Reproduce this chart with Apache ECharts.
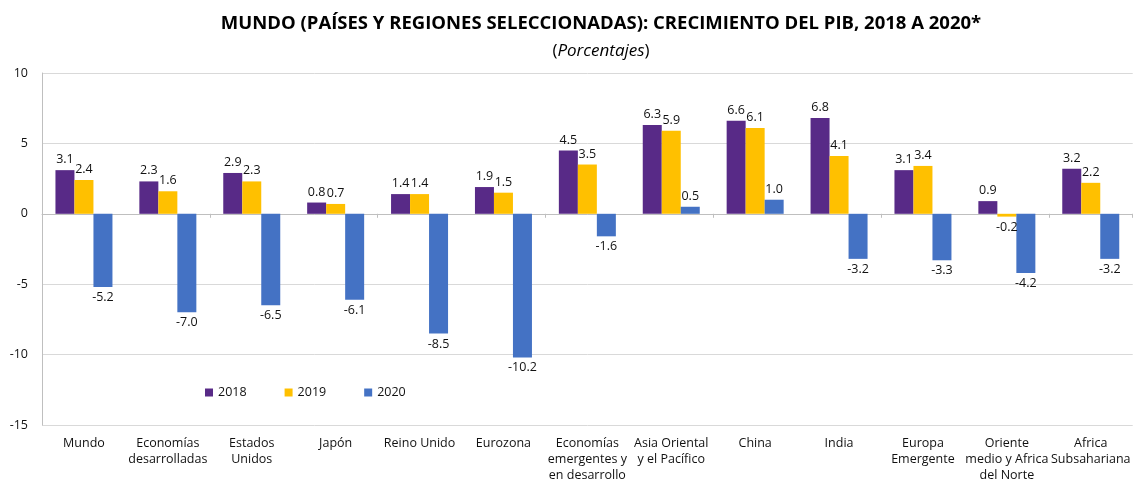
<!DOCTYPE html>
<html>
<head>
<meta charset="utf-8">
<script src="https://cdn.jsdelivr.net/npm/echarts@6/dist/echarts.min.js"></script>
<style>
html, body { margin: 0; padding: 0; background: #fff; }
#main { width: 1133px; height: 483px; }
</style>
</head>
<body>
<div id="main"></div>
<script>
// datos
let categorias = ["Mundo", "Economías\ndesarrolladas", "Estados\nUnidos", "Japón", "Reino Unido", "Eurozona",
    "Economías\nemergentes y\nen desarrollo", "Asia Oriental\ny el Pacífico", "China", "India",
    "Europa\nEmergente", "Oriente\nmedio y Africa\ndel Norte", "Africa\nSubsahariana"];
let pib2018 = [3.1, 2.3, 2.9, 0.8, 1.4, 1.9, 4.5, 6.3, 6.6, 6.8, 3.1, 0.9, 3.2];
let pib2019 = [2.4, 1.6, 2.3, 0.7, 1.4, 1.5, 3.5, 5.9, 6.1, 4.1, 3.4, -0.2, 2.2];
let pib2020 = [-5.2, -7.0, -6.5, -6.1, -8.5, -10.2, -1.6, 0.5, 1.0, -3.2, -3.3, -4.2, -3.2];
let anios = ["2018", "2019", "2020"];
let colores = ["#582A87", "#FFC000", "#4472C4"];

let fuente = "'Open Sans', sans-serif";
let myChart = echarts.init(document.getElementById('main'));

function serie(nombre, datos, color) {
    return {
        name: nombre,
        type: 'bar',
        barWidth: 19,
        barGap: '0%',
        itemStyle: { color: color },
        data: datos.map(function (v) {
            return {
                value: v,
                label: { position: v < 0 ? 'bottom' : 'top' }
            };
        }),
        label: {
            show: true,
            distance: 4,
            fontFamily: fuente,
            fontSize: 12.5,
            color: '#111',
            formatter: function (p) { return p.value.toFixed(1); }
        }
    };
}

myChart.setOption({
    backgroundColor: '#fff',
    animation: false,
    title: {
        text: 'MUNDO (PAÍSES Y REGIONES SELECCIONADAS): CRECIMIENTO DEL PIB, 2018 A 2020*',
        subtext: '{n|(}{i|Porcentajes}{n|)}',
        left: 596,
        textAlign: 'center',
        top: 9,
        itemGap: 10,
        textStyle: {
            fontFamily: fuente,
            fontSize: 18.5,
            fontWeight: 'bold',
            color: '#000'
        },
        subtextStyle: {
            rich: {
                n: { fontFamily: fuente, fontSize: 17, color: '#000' },
                i: { fontFamily: fuente, fontSize: 17, fontStyle: 'italic', color: '#000' }
            }
        }
    },
    legend: {
        data: anios,
        left: 200,
        top: 381,
        itemWidth: 8,
        itemHeight: 8,
        itemGap: 38,
        icon: 'rect',
        textStyle: { fontFamily: fuente, fontSize: 12.5, color: '#111' }
    },
    grid: {
        left: 42,
        top: 73,
        width: 1104,
        height: 353
    },
    xAxis: [{
        type: 'category',
        data: categorias,
        axisLine: { onZero: true, lineStyle: { color: '#bfbfbf' } },
        axisTick: { show: true, length: 4, lineStyle: { color: '#bfbfbf' } },
        axisLabel: { show: false }
    }, {
        type: 'category',
        data: categorias,
        position: 'bottom',
        axisLine: { show: false, onZero: false },
        axisTick: { show: false },
        axisLabel: {
            interval: 0,
            margin: 10,
            fontFamily: fuente,
            fontSize: 12.5,
            lineHeight: 16,
            color: '#111'
        }
    }],
    yAxis: {
        type: 'value',
        min: -15,
        max: 10,
        interval: 5,
        axisLine: { show: true, lineStyle: { color: '#bfbfbf' } },
        axisTick: { show: false },
        axisLabel: { fontFamily: fuente, fontSize: 12.5, color: '#111', margin: 14 },
        splitLine: { lineStyle: { color: '#d9d9d9' } }
    },
    series: [
        serie(anios[0], pib2018, colores[0]),
        serie(anios[1], pib2019, colores[1]),
        serie(anios[2], pib2020, colores[2])
    ]
});
</script>
</body>
</html>
